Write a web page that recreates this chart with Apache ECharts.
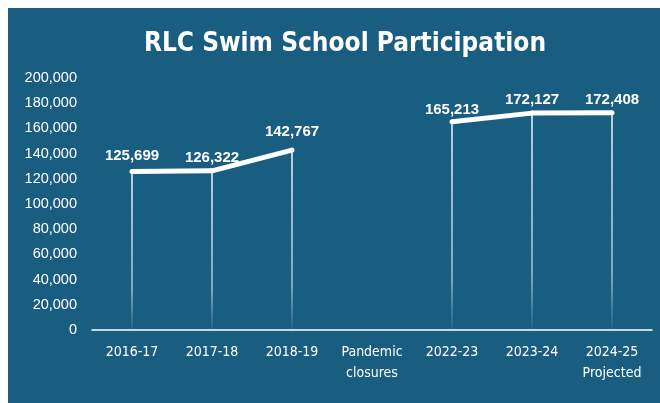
<!DOCTYPE html>
<html>
<head>
<meta charset="utf-8">
<script src="https://cdn.jsdelivr.net/npm/echarts@6/dist/echarts.min.js"></script>
<style>
  html, body { margin: 0; padding: 0; background: #ffffff; }
  #panel { position: absolute; left: 8px; top: 8px; width: 652px; height: 395px; background: #195e80; }
  #chart { position: absolute; left: 0; top: 0; width: 660px; height: 403px; }
</style>
</head>
<body>
<div id="panel"></div>
<div id="chart"></div>
<script>
// Season labels along the x axis
const seasons = ['2016-17', '2017-18', '2018-19', 'Pandemic\nclosures', '2022-23', '2023-24', '2024-25\nProjected'];
// Participation counts per season (no data during closures)
const participation = [125699, 126322, 142767, null, 165213, 172127, 172408];
// Value axis range
const yMin = 0;
const yMax = 200000;
const yStep = 20000;

// extra gap (px) between each value label and its point
const labelGap = [4, 1, 6, 0, 0, 1, 1];

const fmt = v => v.toLocaleString('en-US');

const lineData = participation.map((v, i) => ({
  value: v,
  label: { distance: 2 + labelGap[i] }
}));

const chart = echarts.init(document.getElementById('chart'), null, { renderer: 'canvas' });

chart.setOption({
  backgroundColor: 'transparent',
  animation: false,
  title: {
    text: 'RLC Swim School Participation',
    left: 340,
    textAlign: 'center',
    top: 26,
    textStyle: {
      color: '#ffffff',
      fontFamily: 'DejaVu Sans Condensed',
      fontWeight: 'bold',
      fontSize: 26
    }
  },
  grid: { left: 92, right: 8, top: 78, bottom: 73, containLabel: false },
  xAxis: {
    type: 'category',
    data: seasons,
    boundaryGap: true,
    axisLine: { show: true, lineStyle: { color: '#ffffff', width: 1.5 } },
    axisTick: { show: false },
    axisLabel: {
      color: '#ffffff',
      fontFamily: 'DejaVu Sans Condensed',
      fontSize: 14,
      lineHeight: 21,
      margin: 12,
      interval: 0
    }
  },
  yAxis: {
    type: 'value',
    min: yMin,
    max: yMax,
    interval: yStep,
    axisLine: { show: false },
    axisTick: { show: false },
    splitLine: { show: false },
    axisLabel: {
      color: '#ffffff',
      fontFamily: 'Liberation Sans',
      fontSize: 14.5,
      margin: 15,
      formatter: fmt
    }
  },
  series: [
    {
      // thin drop lines from each point down to the axis, fading out
      type: 'bar',
      data: participation,
      barWidth: 1.5,
      silent: true,
      itemStyle: {
        color: new echarts.graphic.LinearGradient(0, 0, 0, 1, [
          { offset: 0, color: 'rgba(255,255,255,0.95)' },
          { offset: 0.75, color: 'rgba(255,255,255,0.6)' },
          { offset: 1, color: 'rgba(255,255,255,0.05)' }
        ])
      },
      z: 1
    },
    {
      type: 'line',
      data: lineData,
      connectNulls: false,
      symbol: 'circle',
      symbolSize: 5,
      itemStyle: { color: '#ffffff' },
      lineStyle: { color: '#ffffff', width: 5 },
      label: {
        show: true,
        position: 'top',
        color: '#ffffff',
        fontFamily: 'Liberation Sans',
        fontWeight: 'bold',
        fontSize: 15,
        formatter: p => p.value == null ? '' : fmt(p.value)
      },
      z: 3
    }
  ]
});
</script>
</body>
</html>
